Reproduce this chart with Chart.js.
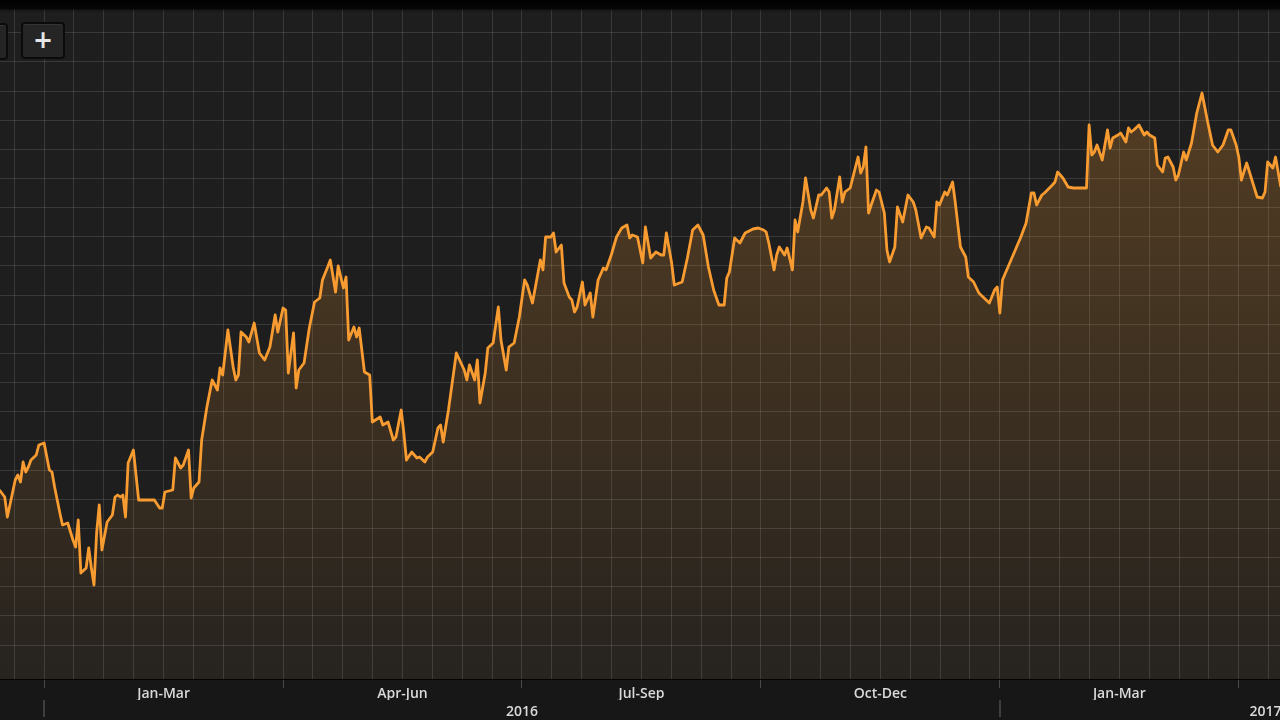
<!DOCTYPE html>
<html>
<head>
<meta charset="utf-8">
<title>Price chart</title>
<script src="https://cdn.jsdelivr.net/npm/chart.js@4/dist/chart.umd.min.js"></script>
<style>
  html, body { margin: 0; padding: 0; background: #171717; }
  #wrap { position: relative; width: 1280px; height: 720px; overflow: hidden; }
  #topbar { position: absolute; left: 0; top: 0; width: 1280px; height: 9px;
    background: linear-gradient(#000, #060606); box-shadow: 0 1px 3px rgba(0,0,0,0.7); }
  .btn { position: absolute; width: 40px; height: 33px; background: #252525;
    border: 2px solid #0b0b0b; border-radius: 4px; box-shadow: inset 0 1px 0 rgba(255,255,255,0.07);
    color: #e6e6e6; font: bold 24px/32px "DejaVu Sans", sans-serif; text-align: center; }
</style>
</head>
<body>
<div id="wrap">
  <canvas id="myChart" width="1280" height="720"></canvas>
  <div id="topbar"></div>
  <div class="btn" style="left:-36px;top:23px">&minus;</div>
  <div class="btn" style="left:21px;top:22px">+</div>
</div>
<script>
// day offsets from 1 Jan 2016 (91 per quarter on this axis) and closing values
const days = [-17, -15, -14, -11, -10, -9, -8, -7, -6, -5, -3, -2, 0, 2, 3, 4, 6, 7, 9, 11,
  12, 13, 14, 16, 17, 18, 19, 20, 21, 22, 24, 26, 27, 28, 29, 30, 31, 32, 34, 36,
  42, 44, 45, 46, 49, 50, 52, 53, 55, 56, 57, 59, 60, 62, 64, 66, 67, 68, 70, 72,
  73, 74, 75, 77, 78, 80, 82, 84, 86, 88, 89, 91, 92, 93, 95, 96, 97, 99, 101, 103,
  105, 106, 108, 109, 111, 112, 114, 115, 116, 118, 119, 120, 122, 124, 125, 128, 129, 131, 133, 134,
  136, 137, 138, 140, 142, 143, 145, 146, 148, 150, 151, 152, 154, 157, 160, 161, 162, 164, 165, 166,
  168, 169, 171, 173, 174, 176, 177, 179, 181, 183, 184, 186, 189, 190, 191, 193, 194, 195, 197, 198,
  200, 201, 202, 203, 205, 206, 208, 209, 211, 213, 214, 216, 218, 220, 222, 223, 224, 226, 228, 229,
  231, 233, 235, 236, 237, 239, 240, 243, 245, 247, 249, 251, 253, 255, 257, 259, 260, 261, 263, 265,
  267, 270, 272, 274, 275, 276, 278, 279, 280, 282, 283, 285, 286, 287, 289, 290, 292, 293, 295, 296,
  298, 299, 300, 301, 303, 304, 305, 307, 310, 311, 312, 313, 314, 315, 317, 318, 320, 321, 322, 324,
  325, 327, 329, 331, 332, 334, 336, 337, 339, 340, 341, 343, 344, 346, 347, 349, 351, 352, 354, 356,
  358, 360, 362, 363, 364, 365, 372, 374, 376, 377, 378, 380, 381, 384, 385, 386, 388, 390, 392, 397,
  398, 399, 400, 401, 403, 405, 406, 407, 409, 410, 412, 413, 414, 415, 417, 419, 420, 421, 423, 424,
  426, 427, 428, 430, 431, 432, 434, 435, 437, 439, 441, 443, 445, 447, 449, 451, 452, 454, 455, 456,
  458, 460, 462, 464, 465, 466, 468, 469, 471];
const prices = [19.0, 18.3, 16.3, 20.0, 20.5, 19.8, 21.8, 20.8, 21.3, 22.0, 22.5, 23.5, 23.7, 21.0, 20.8, 19.3, 16.7, 15.5, 15.7, 14.0,
  13.3, 16.0, 10.7, 11.2, 13.2, 11.2, 9.5, 14.7, 17.5, 13.0, 15.8, 16.5, 18.3, 18.5, 18.3, 18.5, 16.3, 21.7, 23.0, 18.0,
  18.0, 17.2, 17.2, 18.8, 19.0, 22.2, 21.2, 21.5, 23.0, 18.2, 19.2, 19.8, 24.0, 27.3, 30.0, 29.0, 31.2, 30.5, 35.0, 31.3,
  30.0, 30.5, 34.8, 34.3, 33.8, 35.7, 32.7, 32.0, 33.3, 36.5, 34.8, 37.2, 37.0, 30.7, 34.7, 29.2, 31.0, 31.7, 35.2, 37.8,
  38.2, 40.0, 41.3, 42.0, 38.8, 41.4, 39.2, 40.3, 34.0, 35.3, 34.3, 35.2, 30.8, 30.5, 25.8, 26.3, 25.5, 25.8, 24.0, 24.3,
  27.0, 24.7, 22.0, 22.8, 22.2, 22.3, 21.8, 22.3, 22.8, 25.2, 25.5, 23.8, 27.0, 32.7, 31.0, 30.0, 31.5, 30.0, 32.0, 27.7,
  30.7, 33.2, 33.7, 37.3, 34.0, 31.0, 33.3, 33.7, 36.3, 40.0, 39.5, 37.7, 42.0, 41.0, 44.3, 44.3, 44.7, 42.8, 43.5, 39.7,
  38.3, 38.0, 36.8, 37.3, 39.8, 37.5, 38.7, 36.3, 40.0, 41.2, 41.0, 42.5, 44.3, 45.2, 45.5, 44.2, 44.5, 44.3, 41.7, 45.3,
  42.2, 42.8, 42.5, 42.5, 44.7, 41.7, 39.5, 39.8, 42.2, 45.0, 45.5, 44.5, 41.3, 39.0, 37.5, 37.5, 40.2, 40.8, 44.2, 43.7,
  44.7, 45.1, 45.2, 45.0, 44.8, 43.7, 41.0, 42.5, 43.3, 42.5, 43.2, 41.0, 46.0, 44.8, 47.8, 50.2, 47.0, 46.2, 48.5, 48.5,
  49.2, 48.8, 46.2, 47.0, 50.3, 47.8, 48.8, 49.2, 52.3, 50.7, 51.3, 53.3, 46.7, 47.5, 49.0, 48.8, 46.7, 43.0, 41.8, 43.3,
  47.3, 45.8, 48.5, 47.8, 47.0, 44.2, 45.3, 45.2, 44.3, 47.8, 47.5, 48.8, 48.5, 49.8, 47.8, 43.3, 42.3, 40.3, 39.8, 38.7,
  38.2, 37.7, 39.0, 39.3, 36.7, 40.0, 44.3, 45.7, 48.7, 48.7, 47.5, 48.5, 48.7, 49.5, 49.8, 50.8, 50.2, 49.3, 49.2, 49.2,
  55.5, 52.5, 52.8, 53.5, 52.0, 55.0, 53.2, 54.2, 54.5, 54.7, 53.8, 55.2, 54.8, 55.0, 55.5, 54.5, 54.8, 54.5, 54.2, 51.5,
  50.8, 52.2, 52.3, 51.3, 50.0, 50.5, 52.8, 52.0, 53.7, 56.7, 58.7, 56.0, 53.5, 52.8, 53.5, 55.0, 55.0, 53.5, 52.3, 50.0,
  51.7, 50.0, 48.3, 48.2, 48.8, 51.8, 51.2, 52.3, 49.3];

// axis labels
const quarterStarts = [0, 91, 182, 273, 364, 455];
const quarterLabels = ['Jan-Mar', 'Apr-Jun', 'Jul-Sep', 'Oct-Dec', 'Jan-Mar'];
const yearStarts = [0, 364];
const yearLabels = ['2016', '2017'];

document.addEventListener('DOMContentLoaded', function() {
    const viewStart = -16.8, viewEnd = 470.7;
    const gridStep = 91 / 8;
    const orange = '#f89c32';

    // quarter label / boundary ticks
    const qText = {};
    const qTicks = [];
    quarterStarts.forEach((d, i) => {
        qTicks.push({ value: d });
        if (i < quarterLabels.length) {
            const mid = d + 45.5;
            qText[mid] = quarterLabels[i];
            qTicks.push({ value: mid });
        }
    });

    // year label / boundary ticks
    const yText = {};
    const yTicks = [];
    yearStarts.forEach((d, i) => {
        yTicks.push({ value: d });
        const mid = Math.min(d + 182, viewEnd - 5.5);
        yText[mid] = yearLabels[i];
        yTicks.push({ value: mid });
    });

    const bgPlugin = {
        id: 'bg',
        beforeDraw(chart) {
            const { ctx, chartArea: a } = chart;
            ctx.save();
            ctx.fillStyle = '#171717';
            ctx.fillRect(0, 0, chart.width, chart.height);
            ctx.fillStyle = '#1e1e1e';
            ctx.fillRect(a.left, a.top, a.right - a.left, a.bottom - a.top);
            ctx.restore();
        }
    };

    const labelFont = { family: "'Open Sans', sans-serif", size: 14, weight: '600' };

    const ctx = document.getElementById('myChart').getContext('2d');
    new Chart(ctx, {
        type: 'line',
        data: {
            datasets: [{
                data: days.map((d, i) => ({ x: d, y: prices[i] })),
                borderColor: orange,
                borderWidth: 2.8,
                borderJoinStyle: 'round',
                pointRadius: 0,
                tension: 0,
                fill: 'start',
                backgroundColor: c => {
                    const a = c.chart.chartArea;
                    if (!a) return 'transparent';
                    const g = c.chart.ctx.createLinearGradient(0, a.top, 0, a.bottom);
                    g.addColorStop(0, 'rgba(248,156,50,0.28)');
                    g.addColorStop(1, 'rgba(248,156,50,0.04)');
                    return g;
                }
            }]
        },
        options: {
            responsive: false,
            animation: false,
            devicePixelRatio: 1,
            layout: { padding: 0 },
            plugins: { legend: { display: false }, tooltip: { enabled: false } },
            scales: {
                x: {
                    type: 'linear', position: 'bottom', weight: 0,
                    min: viewStart, max: viewEnd,
                    afterBuildTicks: s => {
                        const t = [];
                        for (let k = -1; k <= 41; k++) t.push({ value: k * gridStep });
                        s.ticks = t;
                    },
                    afterFit: s => { s.height = 0; s.paddingLeft = 0; s.paddingRight = 0; },
                    ticks: { display: false },
                    grid: { color: 'rgba(255,255,255,0.12)', lineWidth: 1, drawTicks: false },
                    border: { display: true, color: '#030303', width: 1 }
                },
                xq: {
                    type: 'linear', position: 'bottom', weight: 1,
                    min: viewStart, max: viewEnd,
                    afterBuildTicks: s => { s.ticks = qTicks.map(t => ({ value: t.value })); },
                    afterFit: s => { s.height = 21; s.paddingLeft = 0; s.paddingRight = 0; },
                    ticks: {
                        autoSkip: false, maxRotation: 0, padding: -2,
                        color: '#dadada', font: labelFont,
                        callback: v => qText[v] || ''
                    },
                    grid: {
                        drawOnChartArea: false, tickLength: 9, lineWidth: 1,
                        color: c => (c.tick && qText[c.tick.value]) ? 'rgba(0,0,0,0)' : '#4a4a4a'
                    },
                    border: { display: false }
                },
                xy: {
                    type: 'linear', position: 'bottom', weight: 2,
                    min: viewStart, max: viewEnd,
                    afterBuildTicks: s => { s.ticks = yTicks.map(t => ({ value: t.value })); },
                    afterFit: s => { s.height = 20; s.paddingLeft = 0; s.paddingRight = 0; },
                    ticks: {
                        autoSkip: false, maxRotation: 0, padding: -13,
                        color: '#dadada', font: labelFont,
                        callback: v => yText[v] || ''
                    },
                    grid: {
                        drawOnChartArea: false, tickLength: 17, lineWidth: 2,
                        color: c => (c.tick && yText[c.tick.value]) ? 'rgba(0,0,0,0)' : '#3e3e3e'
                    },
                    border: { display: false }
                },
                y: {
                    type: 'linear', position: 'left',
                    min: 0.1, max: 68,
                    afterBuildTicks: s => {
                        const t = [];
                        for (let k = 1; k <= 23; k++) t.push({ value: 0.58 + k * 2.916 });
                        s.ticks = t;
                    },
                    afterFit: s => { s.width = 0; },
                    ticks: { display: false },
                    grid: { color: 'rgba(255,255,255,0.12)', lineWidth: 1, drawTicks: false },
                    border: { display: false }
                }
            }
        },
        plugins: [bgPlugin]
    });
});
</script>
</body>
</html>
